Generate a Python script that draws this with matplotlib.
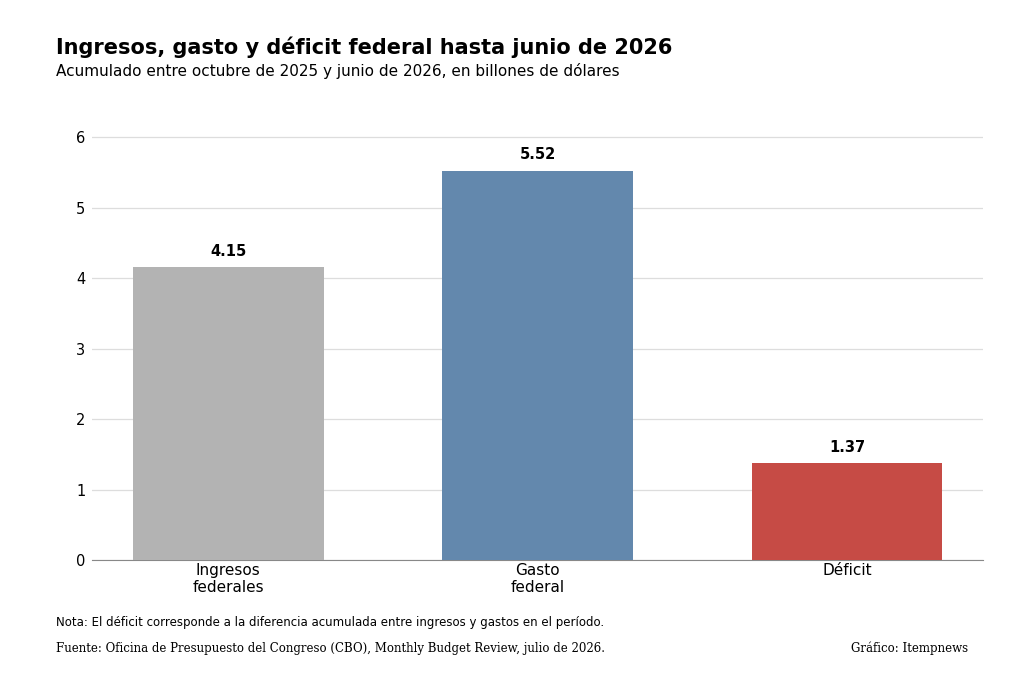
import matplotlib
matplotlib.use("Agg")
import matplotlib.pyplot as plt

categories = ["Ingresos\nfederales", "Gasto\nfederal", "Déficit"]
values = [4.15, 5.52, 1.37]
colors = ["#b3b3b3", "#6388ad", "#c64b45"]
yticks = [0, 1, 2, 3, 4, 5, 6]

fig = plt.figure(figsize=(10.24, 6.83), dpi=100)
ax = fig.add_axes([0.09, 0.18, 0.87, 0.64])
x = range(len(categories))
ax.bar(x, values, width=0.617, color=colors, zorder=3)
for xi, v in zip(x, values):
    ax.text(xi, v + 0.12, f"{v:.2f}", ha="center", va="bottom", fontsize=10.5, fontweight="bold")
ax.set_xticks(list(x))
ax.set_xticklabels(categories, fontsize=11)
ax.set_yticks(yticks)
ax.tick_params(axis="y", labelsize=10.5, length=0, pad=5)
ax.tick_params(axis="x", length=0, pad=2)
ax.set_ylim(0, 6.2)
ax.set_xlim(-0.44, 2.44)
ax.grid(axis="y", color="#dddddd", linewidth=0.9, zorder=0)
for s in ["top", "right", "left"]:
    ax.spines[s].set_visible(False)
ax.spines["bottom"].set_color("#888888")

fig.text(0.055, 0.921, "Ingresos, gasto y déficit federal hasta junio de 2026", fontsize=15, fontweight="bold")
fig.text(0.055, 0.888, "Acumulado entre octubre de 2025 y junio de 2026, en billones de dólares", fontsize=11)
fig.text(0.055, 0.083, "Nota: El déficit corresponde a la diferencia acumulada entre ingresos y gastos en el período.", fontsize=8.5)
fig.text(0.055, 0.046, "Fuente: Oficina de Presupuesto del Congreso (CBO), Monthly Budget Review, julio de 2026.", fontsize=8.5, family="DejaVu Serif")
fig.text(0.945, 0.046, "Gráfico: Itempnews", fontsize=8.5, family="DejaVu Serif", ha="right")
fig.savefig("out.png", dpi=100)
